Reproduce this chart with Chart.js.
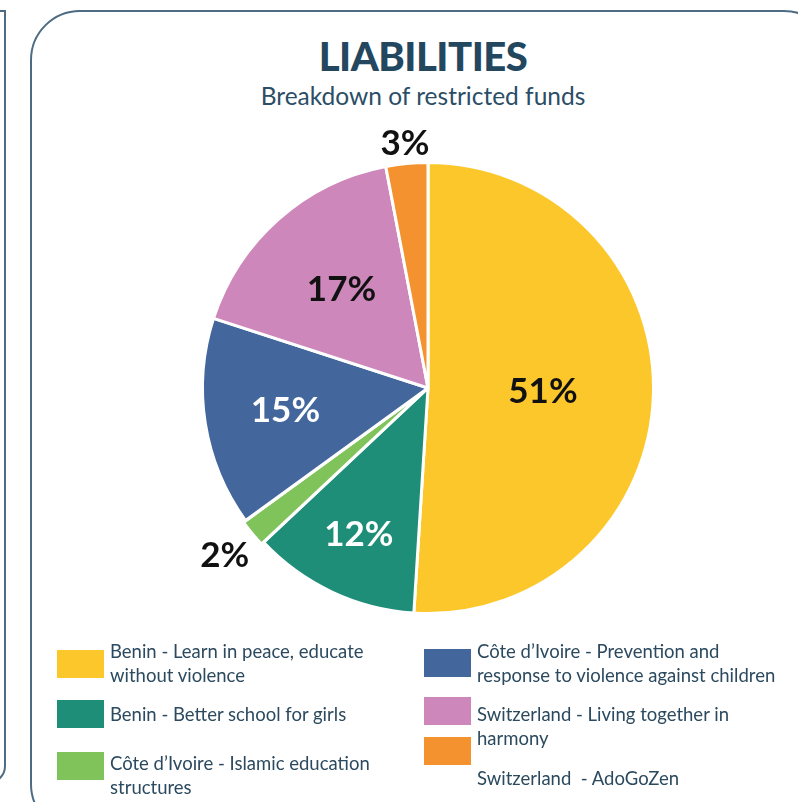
<!DOCTYPE html>
<html>
<head>
<meta charset="utf-8">
<script src="https://cdn.jsdelivr.net/npm/chart.js@4/dist/chart.umd.min.js"></script>
<style>
  html, body { margin: 0; padding: 0; background: #fff; }
  body { width: 798px; height: 802px; position: relative; overflow: hidden; font-family: Lato, "Open Sans", sans-serif; }
  .leftPanel { position: absolute; left: -40px; top: 10px; width: 42px; height: 770px; border: 2px solid #4d6b82; border-radius: 0 0 18px 0; }
  .frame { position: absolute; left: 30px; top: 10px; width: 800px; height: 820px; border: 2px solid #4d6b82; border-radius: 50px; }
  #title { position: absolute; left: 0; width: 846px; top: 32px; text-align: center; font-weight: 900; font-size: 40px; color: #23475f; letter-spacing: -0.5px; }
  #subtitle { position: absolute; left: 0; width: 846px; top: 81px; text-align: center; font-size: 24.5px; color: #2b4e66; }
  canvas { position: absolute; left: 0; top: 0; }
  .item { position: absolute; display: flex; align-items: flex-start; font-size: 18.5px; line-height: 24px; color: #2c4a5f; white-space: pre-wrap; }
  .item .box { width: 47px; height: 28px; margin-right: 6px; flex: none; }
</style>
</head>
<body>
<div class="leftPanel"></div>
<div class="frame"></div>
<div id="title"></div>
<div id="subtitle"></div>
<canvas id="pie" width="798" height="802"></canvas>
<div id="legend"></div>
<script>
const titleText = 'LIABILITIES';
const subtitleText = 'Breakdown of restricted funds';
const projects = [
  'Benin - Learn in peace, educate without violence',
  'Benin - Better school for girls',
  'Côte d\u2019Ivoire - Islamic education structures',
  'Côte d\u2019Ivoire - Prevention and response to violence against children',
  'Switzerland - Living together in harmony',
  'Switzerland  - AdoGoZen'
];
const shares = [51, 12, 2, 15, 17, 3];
const sliceColors = ['#fcc72b', '#1f8e78', '#7fc35a', '#43679d', '#ce87bb', '#f4922f'];
const labelColors = ['#111', '#fff', '#111', '#fff', '#111', '#111'];
const labelRadius = [0.51, 0.72, 1.17, 0.64, 0.58, 1.09];

// legend layout: two columns as in the report
const legendPos = [
  { x: 57, y: 639, w: 300, boxTop: 11 },
  { x: 57, y: 702, w: 300, boxTop: -2 },
  { x: 57, y: 751, w: 300, boxTop: 1 },
  { x: 424, y: 639, w: 305, boxTop: 10 },
  { x: 424, y: 702, w: 305, boxTop: -5 },
  { x: 424, y: 766, w: 305, boxTop: -29 }
];

document.getElementById('title').textContent = titleText;
document.getElementById('subtitle').textContent = subtitleText;

const legend = document.getElementById('legend');
projects.forEach((name, i) => {
  const p = legendPos[i];
  const div = document.createElement('div');
  div.className = 'item';
  div.style.left = p.x + 'px';
  div.style.top = p.y + 'px';
  const box = document.createElement('div');
  box.className = 'box';
  box.style.background = sliceColors[i];
  box.style.marginTop = p.boxTop + 'px';
  const txt = document.createElement('div');
  txt.textContent = name;
  txt.style.width = p.w + 'px';
  div.appendChild(box);
  div.appendChild(txt);
  legend.appendChild(div);
});

// draw the percentages next to / inside each slice
const pctLabels = {
  id: 'pctLabels',
  afterDatasetsDraw(chart) {
    const ctx = chart.ctx;
    const meta = chart.getDatasetMeta(0);
    ctx.save();
    ctx.font = 'bold 35px Lato, "Open Sans", sans-serif';
    ctx.textAlign = 'center';
    ctx.textBaseline = 'middle';
    meta.data.forEach((arc, i) => {
      const mid = (arc.startAngle + arc.endAngle) / 2;
      const r = arc.outerRadius * labelRadius[i];
      const x = arc.x + Math.cos(mid) * r;
      const y = arc.y + Math.sin(mid) * r;
      ctx.fillStyle = labelColors[i];
      ctx.fillText(shares[i] + '%', x, y);
    });
    ctx.restore();
  }
};

new Chart(document.getElementById('pie').getContext('2d'), {
  type: 'pie',
  data: {
    labels: projects,
    datasets: [{
      data: shares,
      backgroundColor: sliceColors,
      borderColor: '#fff',
      borderWidth: 3,
      offset: [0, 0, 6, 0, 0, 0]
    }]
  },
  options: {
    responsive: false,
    animation: false,
    layout: { padding: { left: 198, right: 140, top: 158, bottom: 184 } },
    plugins: { legend: { display: false }, tooltip: { enabled: false } }
  },
  plugins: [pctLabels]
});
</script>
</body>
</html>
